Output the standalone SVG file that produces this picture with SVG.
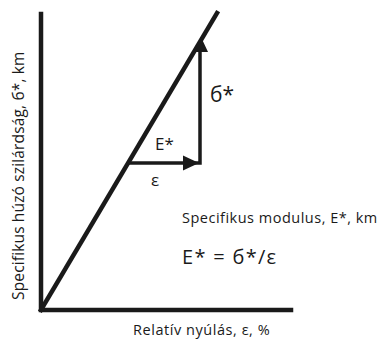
<svg xmlns="http://www.w3.org/2000/svg" width="378" height="340" viewBox="0 0 378 340">
<style>
.ax{stroke:#1a1a1a;stroke-width:4.5;fill:none;stroke-linecap:square}
.ar{stroke:#1a1a1a;stroke-width:3.5;fill:none}
.hd{fill:#1a1a1a}
.t{font-family:"Open Sans","Liberation Sans",sans-serif;fill:#1a1a1a}
</style>
<rect width="378" height="340" fill="#fff"/>
<g id="axes">
<path class="ax" d="M41,14 L41,310 L291,310"/>
</g>
<g id="connectors">
<line class="ax" x1="41" y1="310" x2="217" y2="13"/>
<line class="ar" x1="129" y1="163" x2="186" y2="163"/>
<polygon class="hd" points="183,155.5 199,163 183,170.5"/>
<path class="ar" d="M186,163 L200,163 L200,50"/>
<polygon class="hd" points="193.5,52 208,52 201,37"/>
</g>
<g id="labels">
<text class="t" x="210" y="102" font-size="21">б*</text>
<text class="t" x="155" y="150" font-size="17">E*</text>
<text class="t" x="151" y="186" font-size="17">ε</text>
<text class="t" x="182" y="223" font-size="14.5" letter-spacing="0.5">Specifikus modulus, E*, km</text>
<text class="t" x="182" y="264" font-size="20" letter-spacing="1.3">E* = б*/ε</text>
<text class="t" x="133" y="335" font-size="14.5" letter-spacing="0.55">Relatív nyúlás, ε, %</text>
<text class="t" transform="translate(24,300) rotate(-90)" font-size="15.5" letter-spacing="0.15">Specifikus húzó szilárdság, б*, km</text>
</g>
</svg>
